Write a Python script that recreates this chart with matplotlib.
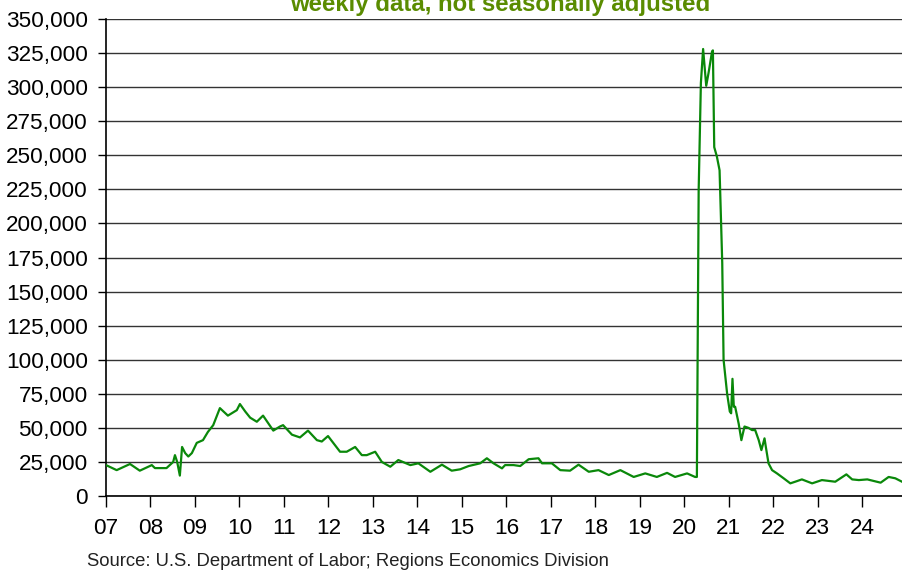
import numpy as np
import matplotlib
matplotlib.use("Agg")
import matplotlib.pyplot as plt
from matplotlib.ticker import FuncFormatter

plt.rcParams['font.family'] = ['Liberation Sans', 'DejaVu Sans']

# weekly initial claims (thousands) at fractional years
years = [2007.00, 2007.24, 2007.54, 2007.76, 2008.03, 2008.10, 2008.36, 2008.51, 2008.55, 2008.60,
         2008.66, 2008.71, 2008.78, 2008.85, 2008.93, 2009.04, 2009.18, 2009.29, 2009.41, 2009.56,
         2009.74, 2009.94, 2010.01, 2010.13, 2010.24, 2010.39, 2010.53, 2010.76, 2010.91, 2010.98,
         2011.18, 2011.36, 2011.54, 2011.74, 2011.85, 2011.99, 2012.26, 2012.41, 2012.60, 2012.75,
         2012.86, 2013.05, 2013.20, 2013.39, 2013.57, 2013.84, 2014.02, 2014.29, 2014.55, 2014.77,
         2014.96, 2015.15, 2015.41, 2015.56, 2015.71, 2015.90, 2015.97, 2016.16, 2016.31, 2016.50,
         2016.72, 2016.80, 2017.02, 2017.21, 2017.43, 2017.62, 2017.85, 2018.07, 2018.30, 2018.56,
         2018.86, 2019.12, 2019.38, 2019.61, 2019.79, 2020.06, 2020.24, 2020.28, 2020.32, 2020.37,
         2020.42, 2020.49, 2020.54, 2020.62, 2020.64, 2020.67, 2020.73, 2020.79, 2020.85, 2020.88,
         2020.96, 2021.02, 2021.05, 2021.08, 2021.11, 2021.14, 2021.22, 2021.28, 2021.35, 2021.44,
         2021.52, 2021.59, 2021.67, 2021.73, 2021.80, 2021.83, 2021.89, 2021.97, 2022.08, 2022.23,
         2022.38, 2022.49, 2022.64, 2022.87, 2023.09, 2023.39, 2023.64, 2023.77, 2023.92, 2024.11,
         2024.41, 2024.59, 2024.74, 2024.89]
claims = [22.7, 19.0, 23.5, 18.6, 22.7, 20.5, 20.5, 25.0, 30.0, 25.0,
          15.0, 36.0, 31.5, 29.0, 31.5, 39.0, 41.0, 47.0, 52.0, 64.5,
          59.0, 63.0, 67.5, 62.0, 57.5, 54.5, 59.0, 48.0, 51.0, 52.0,
          45.0, 43.0, 48.0, 41.0, 40.0, 44.0, 32.5, 32.5, 36.0, 30.0,
          30.0, 32.5, 25.0, 21.5, 26.4, 22.7, 24.0, 17.8, 23.0, 18.6,
          19.6, 22.0, 24.0, 27.7, 24.0, 20.3, 22.7, 22.7, 22.0, 27.0,
          27.7, 24.0, 24.0, 19.0, 18.6, 23.0, 17.8, 19.0, 15.4, 19.0,
          14.0, 16.6, 14.0, 17.0, 14.0, 16.6, 14.0, 14.0, 224.0, 303.0,
          328.0, 301.0, 310.0, 326.0, 327.0, 256.0, 249.0, 239.0, 171.0, 100.0,
          75.0, 62.0, 60.7, 86.0, 65.5, 65.5, 53.0, 41.0, 51.0, 50.0,
          48.4, 48.4, 41.0, 33.7, 42.3, 36.0, 24.0, 19.0, 16.6, 13.0,
          9.3, 10.5, 12.2, 9.3, 11.7, 10.5, 15.9, 12.2, 11.7, 12.2,
          9.8, 14.0, 13.0, 10.5]

year_ticks = list(range(2007, 2025))
year_labels = ['%02d' % (y % 100) for y in year_ticks]

fig = plt.figure(figsize=(9.02, 5.71), dpi=100)
ax = fig.add_axes([0.1175, 0.1313, 0.8825, 0.8354])

ax.plot(years, claims, color='#0a880a', lw=1.6, zorder=3)

ax.set_ylim(0, 350)
ax.set_yticks(np.arange(0, 351, 25))
ax.yaxis.set_major_formatter(FuncFormatter(lambda v, p: f"{v * 1000:,.0f}"))
ax.set_xlim(2007, 2024.89)
ax.set_xticks(year_ticks)
ax.set_xticklabels(year_labels)

ax.grid(axis='y', color='#333333', lw=1.0, zorder=1)
ax.tick_params(axis='y', labelsize=16.2, length=6, width=1, pad=7, direction='out')
ax.tick_params(axis='x', labelsize=16.2, length=8, width=1, pad=8, direction='out')
for s in ['top', 'right']:
    ax.spines[s].set_visible(False)
ax.spines['left'].set_linewidth(1.2)
ax.spines['bottom'].set_linewidth(1.2)

fig.text(0.555, 1 - 11 / 571, 'weekly data, not seasonally adjusted', ha='center', va='baseline',
         fontsize=17.3, fontweight='bold', color='#5a8c00')
fig.text(87 / 902, 1 - 561 / 571, 'Source: U.S. Department of Labor; Regions Economics Division',
         ha='left', va='center', fontsize=13.3, color='#222222')

fig.savefig('out.png', dpi=100)
